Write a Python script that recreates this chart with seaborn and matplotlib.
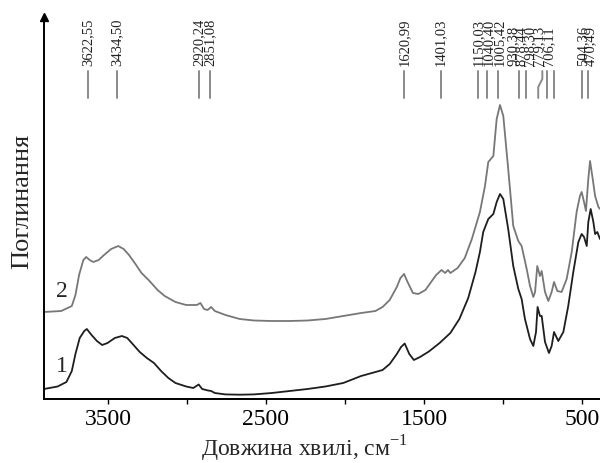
import numpy as np
import pandas as pd
import matplotlib
matplotlib.use("Agg")
import matplotlib.pyplot as plt
import seaborn as sns

# ---------------- data ----------------
w2 = [3905, 3796, 3729, 3706, 3683, 3656, 3638, 3616, 3593, 3559, 3525, 3480, 3435, 3401, 3367,
      3322, 3288, 3243, 3186, 3141, 3073, 3005, 2938, 2915, 2892, 2870, 2847, 2824, 2757, 2666,
      2576, 2463, 2350, 2237, 2124, 2011, 1898, 1807, 1762, 1717, 1672, 1649, 1626, 1604, 1570,
      1536, 1491, 1446, 1423, 1389, 1366, 1348, 1333, 1287, 1242, 1197, 1146, 1114, 1093, 1061,
      1040, 1019, 998, 967, 935, 903, 882, 850, 829, 808, 797, 783, 766, 755, 734, 713, 692, 677,
      656, 629, 597, 565, 534, 513, 502, 487, 475, 460, 449, 432, 417, 396, 386]
a2 = [0.87, 0.88, 0.93, 1.04, 1.24, 1.39, 1.42, 1.39, 1.37, 1.39, 1.44, 1.50, 1.53, 1.50, 1.44,
      1.34, 1.26, 1.19, 1.09, 1.03, 0.97, 0.94, 0.94, 0.96, 0.90, 0.89, 0.92, 0.88, 0.84, 0.80,
      0.785, 0.78, 0.78, 0.785, 0.80, 0.83, 0.86, 0.88, 0.92, 0.99, 1.12, 1.21, 1.25, 1.17, 1.06,
      1.05, 1.09, 1.19, 1.24, 1.29, 1.26, 1.29, 1.26, 1.31, 1.41, 1.60, 1.87, 2.13, 2.37, 2.43,
      2.80, 2.94, 2.83, 2.30, 1.73, 1.58, 1.53, 1.30, 1.13, 1.02, 1.07, 1.33, 1.23, 1.28, 1.07,
      0.98, 1.07, 1.17, 1.08, 1.07, 1.20, 1.47, 1.87, 2.03, 2.07, 1.97, 1.88, 2.20, 2.38, 2.20,
      2.03, 1.92, 1.90]

w1 = [3905, 3819, 3763, 3729, 3706, 3679, 3650, 3634, 3604, 3570, 3537, 3503, 3457, 3412, 3378,
      3344, 3299, 3254, 3209, 3164, 3118, 3073, 3005, 2960, 2926, 2904, 2870, 2847, 2824, 2757,
      2666, 2576, 2463, 2350, 2237, 2124, 2011, 1898, 1807, 1762, 1717, 1672, 1645, 1622, 1593,
      1564, 1525, 1469, 1401, 1333, 1276, 1220, 1174, 1146, 1125, 1093, 1061, 1040, 1019, 998,
      967, 935, 903, 882, 861, 829, 808, 791, 781, 766, 755, 734, 709, 692, 677, 650, 618, 587,
      555, 523, 502, 487, 470, 460, 445, 428, 417, 403, 386]
a1 = [0.10, 0.125, 0.17, 0.28, 0.45, 0.61, 0.68, 0.70, 0.64, 0.58, 0.54, 0.56, 0.61, 0.63, 0.61,
      0.55, 0.47, 0.41, 0.36, 0.28, 0.21, 0.16, 0.125, 0.11, 0.145, 0.10, 0.086, 0.08, 0.06, 0.046,
      0.043, 0.046, 0.06, 0.08, 0.10, 0.125, 0.16, 0.23, 0.27, 0.29, 0.35, 0.45, 0.52, 0.555, 0.45,
      0.39, 0.42, 0.475, 0.56, 0.66, 0.80, 1.01, 1.27, 1.47, 1.67, 1.80, 1.85, 1.97, 2.05, 2.00,
      1.70, 1.33, 1.10, 1.00, 0.80, 0.60, 0.53, 0.67, 0.92, 0.83, 0.83, 0.57, 0.46, 0.53, 0.67,
      0.58, 0.67, 0.93, 1.27, 1.57, 1.65, 1.62, 1.53, 1.77, 1.90, 1.77, 1.65, 1.67, 1.60]

peak_labels = ["3622,55", "3434,50", "2920,24", "2851,08", "1620,99", "1401,03", "1150,03",
               "1040,40", "1005,42", "930,38", "878,44", "798,30", "779,13", "706,11",
               "504,36", "470,49"]
peak_lines = [3629, 3441, 2924, 2854, 1627, 1394, 1160, 1103, 1030, 899, 856, 777, 724, 675, 502, 460]

major_ticks = [3500, 2500, 1500, 500]
minor_ticks = [3000, 2000, 1000]
curve_names = ["1", "2"]

# ---------------- layout ----------------
# label x positions (where labels are squeezed apart from their lines)
label_x = [3628, 3441, 2924, 2854, 1627, 1394, 1156, 1093, 1023, 937, 885, 829, 771, 713, 497, 444]
bent_top = {11: 751}   # 798,30 line bends to the right

sns.set_theme(style="ticks")
plt.rcParams["font.family"] = ["Liberation Serif", "DejaVu Serif"]
plt.rcParams["mathtext.fontset"] = "custom"
plt.rcParams["mathtext.rm"] = "Liberation Serif"

fig = plt.figure(figsize=(6.0, 4.64), dpi=100)
ax = fig.add_axes([44/600, 64/464, 556/600, 382/464])

df1 = pd.DataFrame({"w": w1, "a": a1})
df2 = pd.DataFrame({"w": w2, "a": a2})
sns.lineplot(data=df2, x="w", y="a", ax=ax, color="#777777", lw=1.3, estimator=None, sort=False)
sns.lineplot(data=df1, x="w", y="a", ax=ax, color="#1e1e1e", lw=1.3, estimator=None, sort=False)

ax.set_xlim(3905, 386)
ax.set_ylim(0, 3.82)
ax.set_yticks([])
ax.set_xticks(major_ticks)
ax.set_xticklabels([str(t) for t in major_ticks])
ax.set_xticks(minor_ticks, minor=True)
ax.tick_params(axis="x", which="both", direction="out", length=3.8, width=1.0,
               colors="black", labelsize=17, pad=3)

sns.despine(ax=ax)
for s in ["left", "bottom"]:
    ax.spines[s].set_color("black")
    ax.spines[s].set_linewidth(1.4)

# arrow on top of y axis
ax.plot([0], [1], marker="^", color="black", ms=6, transform=ax.transAxes, clip_on=False)

ax.set_xlabel("Довжина хвилі, см$^{\\mathregular{-1}}$", fontsize=17)
ax.xaxis.set_label_coords((305 - 44) / 556, (400 - 434) / 382)
ax.set_ylabel("Поглинання", fontsize=19)
ax.yaxis.set_label_coords((33 - 44) / 556, (400 - 201) / 382)

# curve numbers
ax.text(3791, 1.08, curve_names[1], fontsize=17, ha="center", va="center")
ax.text(3791, 0.33, curve_names[0], fontsize=17, ha="center", va="center")

# peak markers
y_bot, y_top, y_txt = 3.01, 3.28, 3.34
for i, (lab, lx, tx) in enumerate(zip(peak_labels, peak_lines, label_x)):
    if i in bent_top:
        tx2 = bent_top[i]
        ax.plot([lx, lx, tx2, tx2], [y_bot, 3.12, 3.20, y_top], color="#8a8a8a", lw=1.4,
                clip_on=False)
    else:
        ax.plot([lx, lx], [y_bot, y_top], color="#8a8a8a", lw=1.4, clip_on=False)
    ax.text(tx, y_txt, lab, rotation=90, ha="center", va="bottom", fontsize=10.5,
            color="#222222", clip_on=False)

fig.savefig("out.png", dpi=100)
